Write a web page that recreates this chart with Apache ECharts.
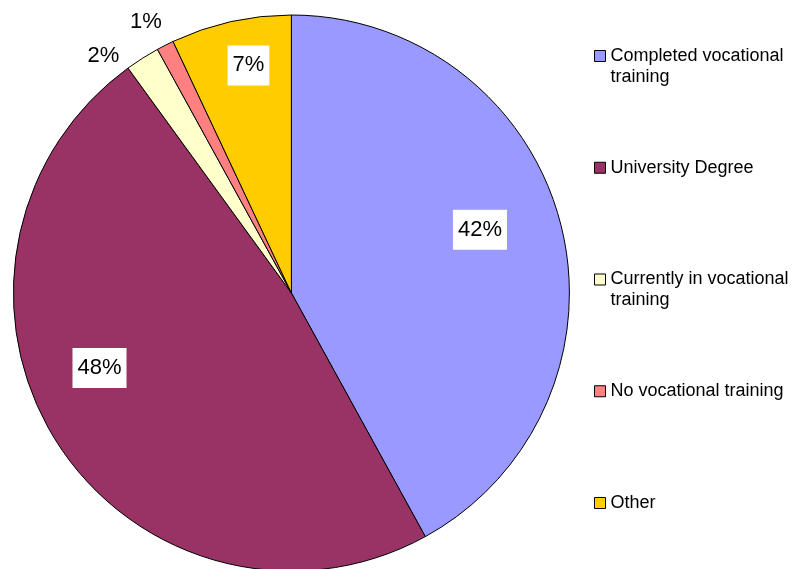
<!DOCTYPE html>
<html>
<head>
<meta charset="utf-8">
<title>Vocational training</title>
<script src="https://cdn.jsdelivr.net/npm/echarts@6/dist/echarts.min.js"></script>
<style>
  html, body { margin: 0; padding: 0; background: #fff; }
  #chart { width: 796px; height: 569px; }
</style>
</head>
<body>
<div id="chart"></div>
<script>
// Education / training status of respondents, in percent
const categories = [
  'Completed vocational training',
  'University Degree',
  'Currently in vocational training',
  'No vocational training',
  'Other'
];
const shares = [42, 48, 2, 1, 7];

// Legend text: a blank first line keeps the first real line level with the swatch
const legendText = [
  ' \nCompleted vocational\ntraining',
  ' \nUniversity Degree\n ',
  ' \nCurrently in vocational\ntraining',
  ' \nNo vocational training\n ',
  ' \nOther\n '
];

const sliceColors = ['#9999FF', '#993366', '#FFFFCC', '#FF8080', '#FFCC00'];
// Boxed labels sit inside the big slices; the thin slices get bare labels
const boxedLabel = [true, true, false, false, true];
// Nudges of each percentage label away from its default spot
const labelShift = [[51, -28], [-72, -1], [-112, -117], [-81, -145], [-12, -89]];

const FONT = "'Liberation Sans', Arial, sans-serif";

const chart = echarts.init(document.getElementById('chart'), null, { renderer: 'canvas' });

const pieData = categories.map((name, i) => ({
  name: name,
  value: shares[i],
  itemStyle: { color: sliceColors[i] },
  label: boxedLabel[i]
    ? { backgroundColor: '#ffffff', padding: [9, 5, 9, 5] }
    : { backgroundColor: 'transparent', padding: 0 }
}));

chart.setOption({
  animation: false,
  backgroundColor: '#ffffff',
  legend: {
    orient: 'vertical',
    left: 589,
    top: 19.5,
    itemWidth: 11,
    itemHeight: 11,
    itemGap: 48.75,
    icon: 'rect',
    selectedMode: false,
    itemStyle: { borderColor: '#000000', borderWidth: 1 },
    data: categories,
    formatter: name => legendText[categories.indexOf(name)],
    textStyle: {
      fontFamily: FONT,
      fontSize: 18,
      color: '#000000',
      lineHeight: 21
    }
  },
  series: [{
    type: 'pie',
    center: [291.4, 293],
    radius: 278,
    startAngle: 90,
    clockwise: true,
    avoidLabelOverlap: false,
    silent: true,
    itemStyle: { borderColor: '#000000', borderWidth: 1 },
    label: {
      show: true,
      position: 'inside',
      color: '#000000',
      fontFamily: FONT,
      fontSize: 22,
      formatter: p => shares[p.dataIndex] + '%'
    },
    labelLine: { show: false },
    labelLayout: p => ({ dx: labelShift[p.dataIndex][0], dy: labelShift[p.dataIndex][1] }),
    emphasis: { disabled: true },
    data: pieData
  }]
});
</script>
</body>
</html>
